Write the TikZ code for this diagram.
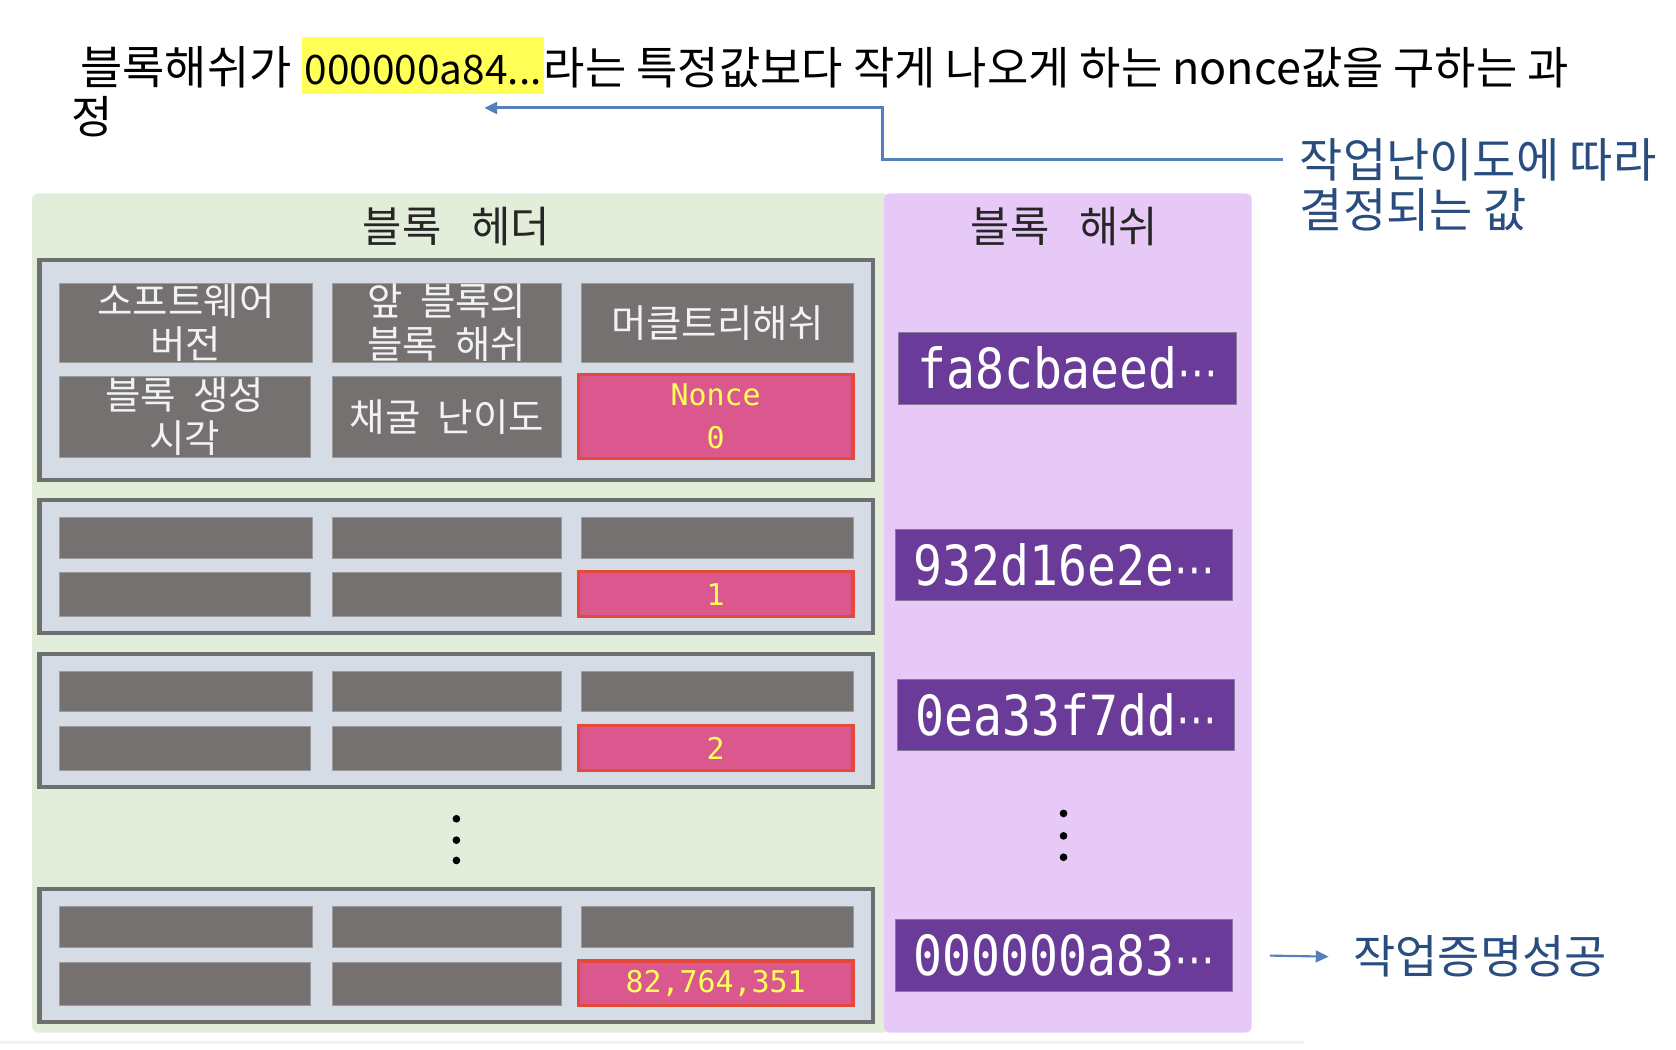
\documentclass[tikz,border=0pt]{standalone}
\usepackage{fontspec}
\setmainfont{Noto Sans CJK KR}
\newfontfamily\krfont{Noto Sans CJK KR}
\newfontfamily\monofont{DejaVu Sans Mono}
\newfontfamily\dvsfont{DejaVu Sans}
\usetikzlibrary{arrows.meta}
\definecolor{greenbg}{HTML}{E3EEDA}
\definecolor{purplebg}{HTML}{E6C9F6}
\definecolor{boxfill}{HTML}{D6DCE5}
\definecolor{boxline}{HTML}{6F6F6F}
\definecolor{cellgray}{HTML}{757171}
\definecolor{cellline}{HTML}{9C9A9A}
\definecolor{celltext}{HTML}{F2F2F2}
\definecolor{noncefill}{HTML}{DA588D}
\definecolor{noncered}{HTML}{E5493A}
\definecolor{nonceyellow}{HTML}{FFFF5A}
\definecolor{hashfill}{HTML}{6A3B99}
\definecolor{hashline}{HTML}{8A7A9A}
\definecolor{arrowblue}{HTML}{5580BB}
\definecolor{textblue}{HTML}{2A4D80}
\definecolor{hlyellow}{HTML}{FFFF55}
\definecolor{hdrtext}{HTML}{262626}
\definecolor{faintline}{HTML}{EEF3F9}
\newcommand\fs[2]{\fontsize{#1}{#2}\selectfont}
\newcommand\mybox[7]{\node[#6, minimum width={((#4)-(#2))*1pt}, minimum height={((#5)-(#3))*1pt}] (#1) at ({((#2)+(#4))/2},{((#3)+(#5))/2}) {#7};}
\newcommand\hdrrow[3]{%
  \mybox{#1}{37}{#2}{817}{(#2)+124}{hbox}{}
  \mybox{#1c1}{56}{(#2)+16}{292}{(#2)+54}{cell}{}
  \mybox{#1c2}{311}{(#2)+16}{525}{(#2)+54}{cell}{}
  \mybox{#1c3}{544}{(#2)+16}{798}{(#2)+54}{cell}{}
  \mybox{#1c4}{56}{(#2)+68}{290}{(#2)+109}{cell}{}
  \mybox{#1c5}{311}{(#2)+68}{525}{(#2)+109}{cell}{}
  \mybox{#1n}{541}{(#2)+67}{798}{(#2)+109}{noncecell}{#3}
}
\newcommand\wsp{\hspace{0.45em}}
\begin{document}
\begin{tikzpicture}[x=1pt,y=-1pt,
  every node/.style={inner sep=0pt, outer sep=0pt},
  hbox/.style={fill=boxfill, draw=boxline, line width=4pt},
  cell/.style={fill=cellgray, draw=cellline, line width=0.8pt, text=celltext, align=center, font=\krfont\fs{36}{40}},
  noncecell/.style={fill=noncefill, draw=noncered, line width=3pt, text=nonceyellow, align=center, font=\monofont\fs{28}{40}},
  hashbox/.style={fill=hashfill, draw=hashline, line width=1pt, text=white},
  hdr/.style={font=\krfont\fs{40}{44}, text=hdrtext},
  conn/.style={draw=arrowblue, line width=2.6pt, -{Triangle[length=12pt,width=11pt]}},
  dotmark/.style={fill=black}
]
\fill[white] (0,0) rectangle (1568,982);
\useasboundingbox (0,0) rectangle (1568,982);

% faint bottom line
\draw[line width=2.5pt, faintline] (0,975) -- (1220,975);

% panels
\mybox{gpanel}{30}{181}{832}{966}{fill=greenbg, rounded corners=5pt}{}
\mybox{ppanel}{827}{181}{1171}{966}{fill=purplebg, rounded corners=5pt}{}

% panel headers
\node[hdr] (hh) at (427,212) {블록\hspace{0.7em}헤더};
\node[hdr] (hs) at (996,212) {블록\hspace{0.7em}해쉬};

% first header
\mybox{b1}{37}{243}{817}{449}{hbox}{}
\mybox{b1c1}{56}{265}{292}{339}{cell}{소프트웨어\\버전}
\mybox{b1c2}{311}{265}{525}{339}{cell}{앞\wsp 블록의\\블록\wsp 해쉬}
\mybox{b1c3}{544}{265}{798}{339}{cell}{머클트리해쉬}
\mybox{b1c4}{56}{352}{290}{428}{cell}{블록\wsp 생성\\시각}
\mybox{b1c5}{311}{352}{525}{428}{cell}{채굴\wsp 난이도}
\mybox{b1n}{541}{350}{798}{429}{noncecell}{Nonce\\0}

% further headers
\hdrrow{b2}{468}{1}
\hdrrow{b3}{612}{2}
\hdrrow{b4}{832}{82,764,351}

% dots
\foreach \yy in {766,786,805} \fill[dotmark] (427,\yy) circle (3.6pt);
\foreach \yy in {761,782,802} \fill[dotmark] (995,\yy) circle (3.6pt);

% hashes
\mybox{h1}{841}{311}{1157}{378}{hashbox}{\scalebox{1}[1.15]{\monofont\fs{45}{48}fa8cbaeed\dvsfont\fs{38}{40}⋯}}
\mybox{h2}{838}{495}{1153}{562}{hashbox}{\scalebox{1}[1.15]{\monofont\fs{45}{48}932d16e2e\dvsfont\fs{38}{40}⋯}}
\mybox{h3}{840}{636}{1155}{702}{hashbox}{\scalebox{1}[1.15]{\monofont\fs{45}{48}0ea33f7dd\dvsfont\fs{38}{40}⋯}}
\mybox{h4}{838}{860}{1153}{928}{hashbox}{\scalebox{1}[1.15]{\monofont\fs{45}{48}000000a83\dvsfont\fs{38}{40}⋯}}

% title
\node[anchor=base west, font=\krfont\fs{43}{46}] (t1) at (75,79) {블록해쉬가};
\node[anchor=base west, fill=hlyellow, text height=44pt, text depth=9pt, inner xsep=2pt, font=\krfont\fs{38}{46}] (hl) at (283,79) {000000a84...};
\node[anchor=base west, font=\krfont\fs{42}{46}] (t2) at (hl.base east) {라는 특정값보다 작게 나오게 하는 nonce값을 구하는 과};
\node[anchor=base west, font=\krfont\fs{42}{46}] (t3) at (67,125) {정};

% right notes
\node[anchor=base west, font=\krfont\fs{44}{47}, text=textblue] (n1) at (1216,166) {작업난이도에 따라};
\node[anchor=base west, font=\krfont\fs{44}{47}, text=textblue] (n2) at (1216,213) {결정되는 값};
\coordinate (bend) at (826,101);
\coordinate (tip) at (453,101);
\draw[conn, line width=2.8pt] ([xshift=-16pt]n1.west) -| (bend) -- (tip);

\node[anchor=west, font=\krfont\fs{43}{46}, text=textblue] (s) at (1266,895) {작업증명성공};
\draw[conn, line width=2pt] ([xshift=35pt]h4.east) -- ([xshift=-23pt]s.west);
\end{tikzpicture}
\end{document}
